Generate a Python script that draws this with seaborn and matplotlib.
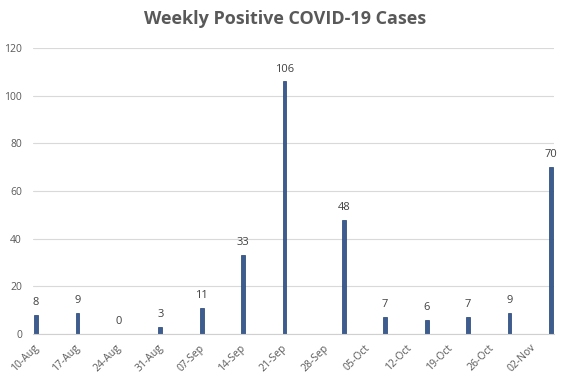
import pandas as pd
import numpy as np
import matplotlib
matplotlib.use("Agg")
import matplotlib.pyplot as plt
import matplotlib.dates as mdates
import seaborn as sns

# Daten
report_dates = ["2020-08-10", "2020-08-17", "2020-08-24", "2020-08-31", "2020-09-07",
                "2020-09-14", "2020-09-21", "2020-10-01", "2020-10-08", "2020-10-15",
                "2020-10-22", "2020-10-29", "2020-11-05"]
cases = [8, 9, 0, 3, 11, 33, 106, 48, 7, 6, 7, 9, 70]
tick_dates = ["2020-08-10", "2020-08-17", "2020-08-24", "2020-08-31", "2020-09-07",
              "2020-09-14", "2020-09-21", "2020-09-28", "2020-10-05", "2020-10-12",
              "2020-10-19", "2020-10-26", "2020-11-02"]

df = pd.DataFrame({"date": pd.to_datetime(report_dates), "cases": cases})
# Balken mittig im Tag (wie Excel-Datumsachse)
df["x"] = mdates.date2num(df["date"]) + 0.5

sns.set_style("white")
plt.rcParams["font.family"] = ["Open Sans", "DejaVu Sans"]

fig = plt.figure(figsize=(5.71, 3.85), dpi=100)
ax = fig.add_axes([0.058, 0.1325, 0.912, 0.7425])

sns.barplot(data=df, x="x", y="cases", native_scale=True, width=0.09,
            color="#2F5A9C", edgecolor="#1F3F73", linewidth=0.5, ax=ax)

for c in ax.containers:
    ax.bar_label(c, padding=5, fontsize=8, color="#404040")

ticks = mdates.date2num(pd.to_datetime(tick_dates))
ax.set_xticks(ticks)
ax.set_xticklabels(pd.to_datetime(tick_dates).strftime("%d-%b"), rotation=45,
                   ha="right", rotation_mode="anchor", fontsize=7.5, color="#595959")
ax.set_xlim(ticks[0], ticks[-1] + 4.0)
ax.set_ylim(0, 120)
ax.set_yticks(range(0, 121, 20))
ax.tick_params(axis="y", length=0, labelsize=7.5, labelcolor="#595959", pad=8)
ax.tick_params(axis="x", length=4, color="#D0D0D0", direction="out", pad=2)
ax.yaxis.grid(True, color="#D9D9D9", linewidth=0.8)
ax.set_axisbelow(True)
for s in ["top", "right", "left"]:
    ax.spines[s].set_visible(False)
ax.spines["bottom"].set_color("#D0D0D0")
ax.set_xlabel("")
ax.set_ylabel("")

fig.suptitle("Weekly Positive COVID-19 Cases", x=0.5, y=0.975, fontsize=13,
             fontweight="bold", color="#595959")

fig.savefig("out.png", dpi=100)
